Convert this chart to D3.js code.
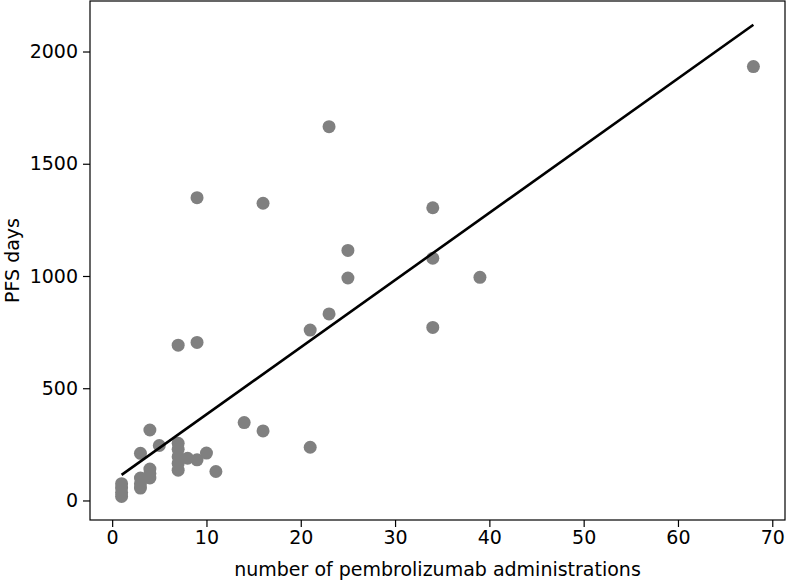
<!DOCTYPE html>
<meta charset="utf-8">
<head>
    <script src="https://d3js.org/d3.v7.min.js"></script>
    <style>
        body { margin: 0; background: white; }
        text { font-family: "DejaVu Sans", sans-serif; }
    </style>
</head>
<body>
    <div id="chart"></div>
    <script>
        // administrations vs PFS days
        var administrations = [1, 1, 1, 1, 3, 3, 3, 3, 4, 4, 4, 4, 5, 7, 7, 7, 7, 7, 7, 8,
            9, 9, 9, 10, 11, 14, 16, 16, 21, 21, 23, 23, 25, 25, 34, 34, 34, 39, 68];
        var pfsDays = [75, 55, 35, 18, 210, 100, 75, 55, 314, 140, 120, 100, 245, 692, 255, 228, 195, 165, 135, 188,
            1349, 704, 181, 211, 129, 347, 1324, 310, 759, 237, 1665, 831, 1114, 991, 1304, 1079, 771, 994, 1933];

        // fitted line end points
        var fitX = [1, 68];
        var fitY = [114, 2119];

        var xTicks = [0, 10, 20, 30, 40, 50, 60, 70];
        var yTicks = [0, 500, 1000, 1500, 2000];

        var width = 788,
            height = 580;
        var margin = { top: 1, right: 3, bottom: 60, left: 90 };
        var fontSize = 19;

        var svg = d3.select("#chart").append("svg")
            .attr("width", width)
            .attr("height", height);

        var x = d3.scaleLinear()
            .domain([-2.35, 71.35])
            .range([margin.left, width - margin.right]);
        var y = d3.scaleLinear()
            .domain([-87, 2225])
            .range([height - margin.bottom, margin.top]);

        // points
        svg.append("g")
            .selectAll("circle")
            .data(administrations)
            .enter()
            .append("circle")
            .attr("cx", function(d) { return x(d); })
            .attr("cy", function(d, i) { return y(pfsDays[i]); })
            .attr("r", 6.5)
            .attr("fill", "#808080");

        // regression line
        var line = d3.line()
            .x(function(d) { return x(d); })
            .y(function(d, i) { return y(fitY[i]); });
        svg.append("path")
            .datum(fitX)
            .attr("d", line)
            .attr("fill", "none")
            .attr("stroke", "black")
            .attr("stroke-width", 2.6);

        // axes
        var xAxis = svg.append("g")
            .attr("transform", "translate(0," + (height - margin.bottom) + ")")
            .call(d3.axisBottom(x).tickValues(xTicks).tickSize(7).tickPadding(4).tickFormat(d3.format("d")));
        var yAxis = svg.append("g")
            .attr("transform", "translate(" + margin.left + ",0)")
            .call(d3.axisLeft(y).tickValues(yTicks).tickSize(7).tickPadding(5).tickFormat(d3.format("d")));

        [xAxis, yAxis].forEach(function(a) {
            a.select(".domain").remove();
            a.selectAll("line").attr("stroke", "black").attr("stroke-width", 1.2);
            a.selectAll("text").attr("font-size", fontSize).attr("fill", "black")
                .style("font-family", "DejaVu Sans, sans-serif");
        });

        // frame
        svg.append("rect")
            .attr("x", margin.left)
            .attr("y", margin.top)
            .attr("width", width - margin.left - margin.right)
            .attr("height", height - margin.top - margin.bottom)
            .attr("fill", "none")
            .attr("stroke", "black")
            .attr("stroke-width", 1.2);

        // labels
        svg.append("text")
            .attr("x", (margin.left + width - margin.right) / 2)
            .attr("y", height - 4)
            .attr("text-anchor", "middle")
            .attr("font-size", fontSize)
            .text("number of pembrolizumab administrations");

        svg.append("text")
            .attr("transform", "translate(12," + ((margin.top + height - margin.bottom) / 2) + ") rotate(-90)")
            .attr("text-anchor", "middle")
            .attr("dy", "0.35em")
            .attr("font-size", fontSize)
            .text("PFS days");
    </script>
</body>
